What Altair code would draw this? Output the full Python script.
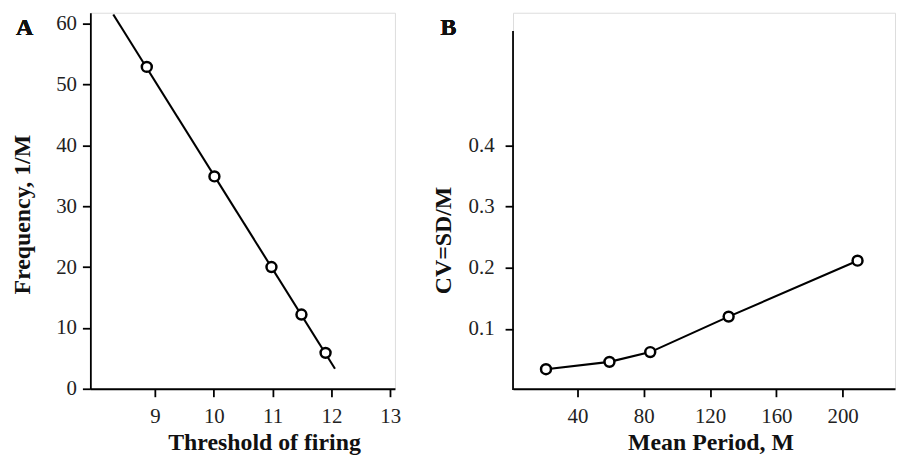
import altair as alt
import pandas as pd

FONT = "Liberation Serif"

# Panel A data
thr = [8.86, 10.01, 10.98, 11.49, 11.90]
freq = [52.9, 34.9, 20.0, 12.2, 5.9]
fit_thr = [8.29, 12.06]
fit_freq = [61.5, 3.3]
thr_ticks = [9, 10, 11, 12, 13]
freq_ticks = [0, 10, 20, 30, 40, 50, 60]

# Panel B data
period = [21.0, 59.3, 83.9, 131.2, 209.0]
cv = [0.034, 0.046, 0.062, 0.120, 0.2115]
period_ticks = [40, 80, 120, 160, 200]
cv_ticks = [0.1, 0.2, 0.3, 0.4]
cv_axis_extent = [0.0, 0.587]

dfA = pd.DataFrame({"thr": thr, "freq": freq})
dfA_fit = pd.DataFrame({"thr": fit_thr, "freq": fit_freq})
dfB = pd.DataFrame({"period": period, "cv": cv})
dfB_axis = pd.DataFrame({"lo": [cv_axis_extent[0]], "hi": [cv_axis_extent[1]]})

W_A, H = 307, 379
W_B = 385

ax_common = dict(
    domainColor="black", domainWidth=1.8, tickColor="black", tickWidth=1.8,
    tickSize=8, labelFont=FONT, labelFontSize=21, labelColor="#222",
    titleFont=FONT, titleFontSize=24, titleFontWeight="bold", titleColor="#111",
    grid=False, titleBaseline="alphabetic",
)

xA = alt.X("thr:Q", scale=alt.Scale(domain=[7.9, 13.08], nice=False, zero=False),
           axis=alt.Axis(values=thr_ticks, title="Threshold of firing",
                         titleX=175, titleY=61, labelPadding=9, **ax_common))
yA = alt.Y("freq:Q", scale=alt.Scale(domain=[0, 61.8], nice=False),
           axis=alt.Axis(values=freq_ticks, title="Frequency, 1/M",
                         titleX=-61, titleY=203, labelPadding=6, **ax_common))

pt_style = dict(shape="circle", fill="white", fillOpacity=1, stroke="black",
                strokeWidth=2.5, size=100, opacity=1)

lineA = alt.Chart(dfA_fit).mark_line(color="black", strokeWidth=2.1).encode(x=xA, y=yA)
ptsA = alt.Chart(dfA).mark_point(**pt_style).encode(x=xA, y=yA)
labA = alt.Chart(dfA).mark_text(text="A", font=FONT, fontSize=24, fontWeight="bold",
                                align="left", baseline="alphabetic", color="#111").encode(
    x=alt.value(-75), y=alt.value(22))
chartA = alt.layer(lineA, ptsA, labA).properties(width=W_A, height=H)

xB = alt.X("period:Q", scale=alt.Scale(domain=[1.1, 231.6], nice=False, zero=False),
           axis=alt.Axis(values=period_ticks, title="Mean Period, M",
                         titleX=199, titleY=61, labelPadding=9, **ax_common))
yB = alt.Y("cv:Q", scale=alt.Scale(domain=[0.002, 0.617], nice=False, zero=False),
           axis=alt.Axis(values=cv_ticks, format=".1f", title="CV=SD/M", domain=False,
                         titleX=-63, titleY=229, labelPadding=11, **ax_common))

axisB = alt.Chart(dfB_axis).mark_rule(color="black", strokeWidth=1.8).encode(
    x=alt.value(0), y=alt.Y("lo:Q", scale=alt.Scale(domain=[0.002, 0.617], nice=False, zero=False)),
    y2="hi:Q")
lineB = alt.Chart(dfB).mark_line(color="black", strokeWidth=2.1).encode(x=xB, y=yB)
ptsB = alt.Chart(dfB).mark_point(**pt_style).encode(x=xB, y=yB)
labB = alt.Chart(dfB).mark_text(text="B", font=FONT, fontSize=24, fontWeight="bold",
                                align="left", baseline="alphabetic", color="#111").encode(
    x=alt.value(-73), y=alt.value(22))
chartB = alt.layer(lineB, axisB, ptsB, labB).properties(width=W_B, height=H)

chart = alt.hconcat(chartA, chartB, spacing=29).properties(
    padding={"left": 2, "top": 0, "right": 0, "bottom": 0}
).configure_view(stroke=None).configure(background="white")

chart.save("out.html", embed_options={"renderer": "svg", "actions": False})
